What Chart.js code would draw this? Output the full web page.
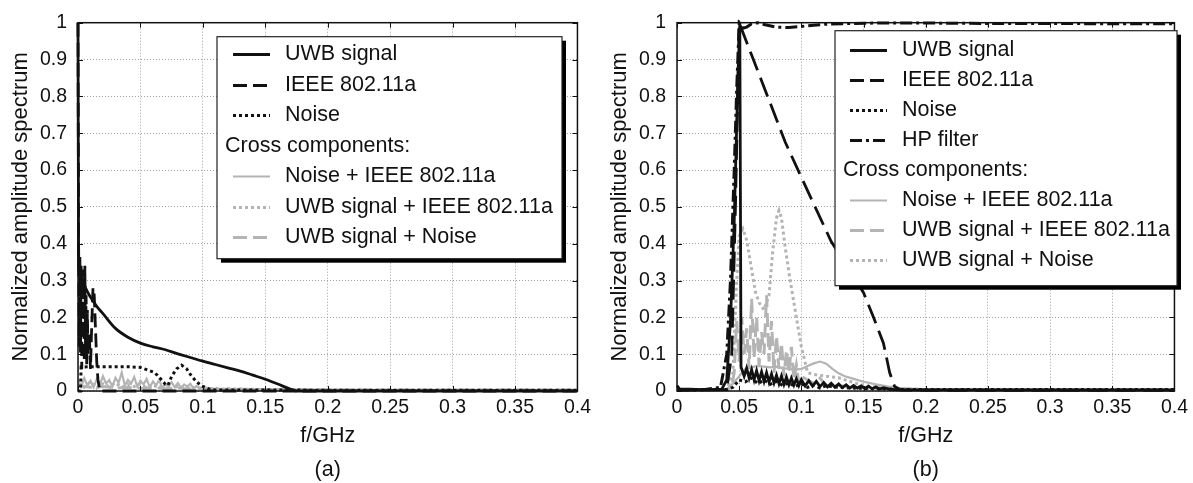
<!DOCTYPE html>
<html>
<head>
<meta charset="utf-8">
<script src="https://cdn.jsdelivr.net/npm/chart.js@4.4.1/dist/chart.umd.min.js"></script>
<style>
  html, body { margin: 0; padding: 0; background: #fff; }
  #wrap { position: relative; width: 1193px; height: 483px; overflow: hidden; }
  canvas { position: absolute; top: 0; }
  #chartA { left: 0; }
  #chartB { left: 599px; }
</style>
</head>
<body>
<div id="wrap">
  <canvas id="chartA" width="596" height="483" style="width:596px;height:483px"></canvas>
  <canvas id="chartB" width="594" height="483" style="width:594px;height:483px"></canvas>
</div>
<script>
// ejes
const xTicks = [0, 0.05, 0.1, 0.15, 0.2, 0.25, 0.3, 0.35, 0.4];
const xTickLabels = ['0', '0.05', '0.1', '0.15', '0.2', '0.25', '0.3', '0.35', '0.4'];
const yTicks = [0, 0.1, 0.2, 0.3, 0.4, 0.5, 0.6, 0.7, 0.8, 0.9, 1];
const yTickLabels = ['0', '0.1', '0.2', '0.3', '0.4', '0.5', '0.6', '0.7', '0.8', '0.9', '1'];

// ---- panel (a) ----
const uwbAx = [0, 0.0005, 0.003, 0.006, 0.01, 0.015, 0.02, 0.03, 0.04, 0.05, 0.06, 0.07, 0.08, 0.09, 0.1, 0.11, 0.12, 0.13, 0.14, 0.15, 0.16, 0.17, 0.175, 0.2, 0.25, 0.3, 0.35, 0.4];
const uwbAy = [1, 0.34, 0.31, 0.28, 0.255, 0.23, 0.21, 0.17, 0.146, 0.13, 0.12, 0.112, 0.101, 0.091, 0.081, 0.072, 0.063, 0.054, 0.043, 0.032, 0.019, 0.005, 0, 0, 0, 0, 0, 0];

const ieeeAx = [0, 0.0005, 0.001, 0.0015, 0.002, 0.0025, 0.003, 0.0035, 0.004, 0.0045, 0.005, 0.0055, 0.006, 0.0065, 0.007, 0.0075, 0.008, 0.009, 0.01, 0.011, 0.012, 0.013, 0.014, 0.015, 0.016, 0.017, 0.018, 0.02, 0.4];
const ieeeAy = [1, 0.4, 0.12, 0.37, 0.1, 0.34, 0.06, 0.33, 0.14, 0.3, 0.08, 0.34, 0.12, 0.26, 0.07, 0.22, 0.1, 0.16, 0.06, 0.18, 0.28, 0.26, 0.17, 0.08, 0.03, 0.01, 0, 0, 0];

const noiseAx = [0, 0.002, 0.0025, 0.01, 0.02, 0.03, 0.04, 0.05, 0.055, 0.06, 0.0635, 0.067, 0.07, 0.072, 0.075, 0.079, 0.083, 0.087, 0.091, 0.095, 0.099, 0.105, 0.11, 0.15, 0.2, 0.25, 0.3, 0.35, 0.4];
const noiseAy = [0, 0, 0.065, 0.066, 0.066, 0.066, 0.066, 0.064, 0.058, 0.052, 0.043, 0.03, 0.018, 0.015, 0.04, 0.06, 0.07, 0.06, 0.04, 0.025, 0.014, 0.005, 0.003, 0.003, 0.002, 0.002, 0.002, 0.002, 0.002];

const niAx = [0, 0.0025, 0.005, 0.0075, 0.01, 0.0125, 0.015, 0.0175, 0.02, 0.0225, 0.025, 0.0275, 0.03, 0.0325, 0.035, 0.0375, 0.04, 0.0425, 0.045, 0.0475, 0.05, 0.0525, 0.055, 0.0575, 0.06, 0.0625, 0.065, 0.0675, 0.07, 0.0725, 0.075, 0.0775, 0.08, 0.0825, 0.085, 0.0875, 0.09, 0.0925, 0.095, 0.0975, 0.1, 0.11, 0.12, 0.14, 0.16, 0.18, 0.2, 0.25, 0.3, 0.35, 0.4];
const niAy = [0.03, 0.012, 0.035, 0.015, 0.028, 0.01, 0.032, 0.018, 0.04, 0.02, 0.03, 0.012, 0.036, 0.022, 0.05, 0.015, 0.03, 0.02, 0.038, 0.012, 0.028, 0.018, 0.033, 0.01, 0.026, 0.015, 0.03, 0.008, 0.02, 0.012, 0.024, 0.01, 0.022, 0.008, 0.018, 0.012, 0.02, 0.006, 0.014, 0.008, 0.01, 0.006, 0.005, 0.004, 0.004, 0.003, 0.003, 0.002, 0.002, 0.002, 0.002];

const uiAx = [0, 0.005, 0.01, 0.015, 0.02, 0.025, 0.03, 0.035, 0.04, 0.045, 0.05, 0.055, 0.06, 0.065, 0.07, 0.075, 0.08, 0.085, 0.09, 0.095, 0.1, 0.105, 0.11, 0.115, 0.12, 0.15, 0.2, 0.25, 0.3, 0.35, 0.4];
const uiAy = [0.02, 0.01, 0.025, 0.008, 0.02, 0.012, 0.022, 0.01, 0.018, 0.012, 0.02, 0.008, 0.016, 0.01, 0.018, 0.006, 0.014, 0.008, 0.012, 0.006, 0.01, 0.005, 0.008, 0.004, 0.006, 0.004, 0.003, 0.002, 0.002, 0.002, 0.002];

const unAx = [0, 0.01, 0.02, 0.03, 0.04, 0.05, 0.06, 0.07, 0.08, 0.09, 0.1, 0.15, 0.2, 0.25, 0.3, 0.35, 0.4];
const unAy = [0.015, 0.01, 0.012, 0.008, 0.01, 0.007, 0.009, 0.006, 0.008, 0.005, 0.005, 0.004, 0.003, 0.003, 0.003, 0.003, 0.003];

// ---- panel (b) ----
const uwbBx = [0, 0.002, 0.01, 0.02, 0.03, 0.036, 0.04, 0.043, 0.046, 0.049, 0.0505, 0.0515,
  0.054, 0.056, 0.058, 0.06, 0.062, 0.064, 0.066, 0.068, 0.07, 0.072, 0.074, 0.076, 0.078, 0.08, 0.082, 0.084, 0.086, 0.088, 0.09, 0.092, 0.094, 0.096, 0.098, 0.1,
  0.103, 0.106, 0.109, 0.112, 0.115, 0.118, 0.121, 0.124, 0.127, 0.13, 0.133, 0.136, 0.139, 0.142, 0.145, 0.148, 0.151, 0.154, 0.157, 0.16, 0.163, 0.166,
  0.17, 0.175, 0.18, 0.2, 0.25, 0.3, 0.35, 0.4];
const uwbBy = [0.015, 0.006, 0.005, 0.004, 0.004, 0.005, 0.03, 0.19, 0.46, 0.85, 1.0, 0.065,
  0.04, 0.062, 0.035, 0.058, 0.03, 0.055, 0.028, 0.052, 0.026, 0.05, 0.024, 0.046, 0.022, 0.043, 0.02, 0.041, 0.018, 0.038, 0.017, 0.035, 0.016, 0.033, 0.015, 0.031,
  0.014, 0.028, 0.013, 0.026, 0.012, 0.023, 0.011, 0.021, 0.01, 0.019, 0.009, 0.017, 0.008, 0.015, 0.008, 0.014, 0.007, 0.013, 0.006, 0.011, 0.005, 0.009,
  0.006, 0.004, 0.003, 0.003, 0.003, 0.003, 0.003, 0.003];

const ieeeBx = [0, 0.02, 0.04, 0.044, 0.047, 0.05, 0.06, 0.07, 0.087, 0.1, 0.124, 0.15, 0.158, 0.166, 0.171, 0.175, 0.18, 0.2, 0.25, 0.3, 0.35, 0.4];
const ieeeBy = [0.003, 0.003, 0.004, 0.1, 0.5, 1.0, 0.912, 0.825, 0.676, 0.58, 0.406, 0.267, 0.2, 0.13, 0.05, 0.012, 0.003, 0.002, 0.002, 0.002, 0.002, 0.002];

const noiseBx = [0, 0.02, 0.04, 0.045, 0.05, 0.055, 0.06, 0.065, 0.07, 0.075, 0.08, 0.085, 0.09, 0.095, 0.1, 0.105, 0.11, 0.115, 0.12, 0.13, 0.14, 0.15, 0.16, 0.17, 0.18, 0.2, 0.25, 0.3, 0.35, 0.4];
const noiseBy = [0.004, 0.004, 0.004, 0.01, 0.03, 0.025, 0.035, 0.02, 0.03, 0.018, 0.026, 0.015, 0.022, 0.012, 0.02, 0.01, 0.016, 0.008, 0.014, 0.01, 0.008, 0.007, 0.006, 0.005, 0.004, 0.004, 0.004, 0.004, 0.004, 0.004];

const hpBx = [0, 0.02, 0.035, 0.04, 0.043, 0.046, 0.048, 0.05, 0.053, 0.056, 0.06, 0.065, 0.07, 0.08, 0.09, 0.1, 0.11, 0.12, 0.14, 0.16, 0.2, 0.25, 0.3, 0.35, 0.4];
const hpBy = [0.003, 0.003, 0.01, 0.1, 0.3, 0.6, 0.82, 1.0, 0.985, 0.988, 0.997, 1.0, 0.995, 0.988, 0.987, 0.99, 0.993, 0.996, 0.998, 0.999, 0.999, 0.998, 0.998, 0.997, 0.997];

const niBx = [0, 0.03, 0.04, 0.045, 0.05, 0.055, 0.06, 0.065, 0.07, 0.075, 0.08, 0.085, 0.09, 0.095, 0.1, 0.105, 0.11, 0.115, 0.12, 0.125, 0.13, 0.135, 0.14, 0.15, 0.16, 0.17, 0.18, 0.2, 0.25, 0.3, 0.35, 0.4];
const niBy = [0.002, 0.002, 0.005, 0.02, 0.04, 0.06, 0.065, 0.068, 0.066, 0.064, 0.066, 0.062, 0.06, 0.058, 0.06, 0.068, 0.075, 0.08, 0.074, 0.06, 0.048, 0.04, 0.035, 0.025, 0.018, 0.012, 0.008, 0.004, 0.002, 0.002, 0.002, 0.002];

const uiBx = [0, 0.04, 0.044,
  0.046, 0.048, 0.05, 0.052, 0.054, 0.056, 0.058, 0.06, 0.062, 0.064, 0.066, 0.068, 0.07, 0.072, 0.074, 0.076, 0.078, 0.08, 0.082, 0.084, 0.086, 0.088, 0.09, 0.092, 0.094, 0.096, 0.098, 0.1,
  0.105, 0.11, 0.115, 0.12, 0.13, 0.14, 0.15, 0.2, 0.3, 0.4];
const uiBy = [0.002, 0.003, 0.01,
  0.05, 0.19, 0.08, 0.2, 0.1, 0.17, 0.06, 0.25, 0.09, 0.2, 0.07, 0.16, 0.1, 0.26, 0.08, 0.19, 0.05, 0.15, 0.06, 0.13, 0.04, 0.11, 0.05, 0.12, 0.03, 0.07, 0.02, 0.04,
  0.03, 0.02, 0.035, 0.015, 0.015, 0.01, 0.008, 0.004, 0.003, 0.003];

const unBx = [0, 0.04, 0.045, 0.048, 0.05, 0.053, 0.056, 0.06, 0.063, 0.066, 0.07, 0.074, 0.077, 0.08, 0.082, 0.084, 0.087, 0.091, 0.095, 0.1, 0.105, 0.11, 0.12, 0.13, 0.14, 0.15, 0.16, 0.18, 0.2, 0.25, 0.3, 0.35, 0.4];
const unBy = [0.002, 0.003, 0.05, 0.3, 0.42, 0.44, 0.41, 0.33, 0.27, 0.24, 0.22, 0.26, 0.38, 0.47, 0.49, 0.47, 0.39, 0.3, 0.22, 0.12, 0.05, 0.045, 0.04, 0.036, 0.025, 0.015, 0.01, 0.006, 0.004, 0.003, 0.003, 0.003, 0.003];

const FONT = "'Liberation Sans', Arial, sans-serif";
const TICK_FONT = "'Liberation Sans Narrow', 'Liberation Sans', Arial, sans-serif";
const GRAY = '#b4b4b4';

function pts(xs, ys) {
  return xs.map((x, i) => ({ x: x, y: ys[i] }));
}

function serie(label, xs, ys, color, width, dash, smooth) {
  return {
    label: label,
    data: pts(xs, ys),
    borderColor: color,
    borderWidth: width,
    borderDash: dash,
    pointRadius: 0,
    fill: false,
    clip: 3,
    cubicInterpolationMode: smooth ? 'monotone' : 'default'
  };
}

// marco negro y marcas hacia dentro
const framePlugin = {
  id: 'frame',
  afterDatasetsDraw(chart) {
    const ctx = chart.ctx, a = chart.chartArea;
    const sx = chart.scales.x, sy = chart.scales.y;
    ctx.save();
    ctx.strokeStyle = '#111';
    ctx.lineWidth = 1;
    ctx.beginPath();
    xTicks.forEach(v => {
      const px = Math.round(sx.getPixelForValue(v)) + 0.5;
      ctx.moveTo(px, a.bottom); ctx.lineTo(px, a.bottom - 5);
      ctx.moveTo(px, a.top); ctx.lineTo(px, a.top + 5);
    });
    yTicks.forEach(v => {
      const py = Math.round(sy.getPixelForValue(v)) + 0.5;
      ctx.moveTo(a.left, py); ctx.lineTo(a.left + 5, py);
      ctx.moveTo(a.right, py); ctx.lineTo(a.right - 5, py);
    });
    ctx.stroke();
    ctx.lineWidth = 1.5;
    ctx.strokeRect(a.left, a.top, a.right - a.left, a.bottom - a.top);
    ctx.restore();
  }
};

// leyenda con recuadro y sombra
const boxLegend = {
  id: 'boxLegend',
  afterDraw(chart, args, o) {
    const ctx = chart.ctx, a = chart.chartArea;
    const x = a.left + o.dx, y = a.top + o.dy;
    ctx.save();
    ctx.fillStyle = '#000';
    ctx.fillRect(x + 4, y + 4, o.w, o.h);
    ctx.fillStyle = '#fff';
    ctx.fillRect(x, y, o.w, o.h);
    ctx.strokeStyle = '#222';
    ctx.lineWidth = 1.2;
    ctx.strokeRect(x, y, o.w, o.h);
    ctx.font = '21.5px ' + FONT;
    ctx.textBaseline = 'middle';
    let row = 0;
    chart.data.datasets.forEach((ds, i) => {
      if (i === o.headerAt) {
        ctx.fillStyle = '#111';
        ctx.fillText(o.header, x + o.headerX, y + o.first + row * o.rowH);
        row++;
      }
      const cy = Math.round(y + o.first + row * o.rowH) + 0.5;
      ctx.beginPath();
      ctx.setLineDash(ds.legendDash || ds.borderDash || []);
      ctx.strokeStyle = ds.borderColor;
      ctx.lineWidth = ds.borderWidth;
      ctx.moveTo(x + o.lineX0, cy);
      ctx.lineTo(x + o.lineX1, cy);
      ctx.stroke();
      ctx.setLineDash([]);
      ctx.fillStyle = '#111';
      ctx.fillText(ds.label, x + o.textX, cy);
      row++;
    });
    ctx.restore();
  }
};

function buildOptions(panelLabel, rightPad, legendCfg) {
  return {
    responsive: false,
    animation: false,
    devicePixelRatio: 1,
    layout: { padding: { left: 0, top: 19, right: rightPad, bottom: 0 } },
    plugins: {
      legend: { display: false },
      tooltip: { enabled: false },
      boxLegend: legendCfg
    },
    scales: {
      x: {
        type: 'linear',
        min: 0,
        max: 0.4,
        afterBuildTicks: s => { s.ticks = xTicks.map(v => ({ value: v })); },
        afterFit: s => { s.height = 92; },
        ticks: {
          autoSkip: false,
          maxRotation: 0,
          padding: 5,
          color: '#111',
          font: { family: TICK_FONT, size: 19.5 },
          callback: (v, i) => xTickLabels[i]
        },
        grid: { color: '#a0a0a0', lineWidth: 1, drawTicks: false },
        border: { display: false, dash: [1, 2] },
        title: {
          display: true,
          text: ['f/GHz', panelLabel],
          color: '#111',
          font: { family: FONT, size: 21.5, lineHeight: '34px' },
          padding: { top: 0, bottom: -4 }
        }
      },
      y: {
        min: 0,
        max: 1,
        afterBuildTicks: s => { s.ticks = yTicks.map(v => ({ value: v })); },
        afterFit: s => { s.width = 78; },
        ticks: {
          padding: 11,
          color: '#111',
          font: { family: TICK_FONT, size: 19.5 },
          callback: (v, i) => yTickLabels[i]
        },
        grid: { color: '#a0a0a0', lineWidth: 1, drawTicks: false },
        border: { display: false, dash: [1, 2] },
        title: {
          display: true,
          text: 'Normalized amplitude spectrum',
          color: '#111',
          font: { family: FONT, size: 22 },
          padding: { top: 8, bottom: 0 }
        }
      }
    }
  };
}

const datasetsA = [
  serie('UWB signal', uwbAx, uwbAy, '#111', 2.8, [], true),
  serie('IEEE 802.11a', ieeeAx, ieeeAy, '#111', 2.8, [14, 6], false),
  serie('Noise', noiseAx, noiseAy, '#111', 3, [3, 3], false),
  serie('Noise + IEEE 802.11a', niAx, niAy, GRAY, 2.2, [], false),
  serie('UWB signal + IEEE 802.11a', uiAx, uiAy, GRAY, 3, [3, 3], false),
  serie('UWB signal + Noise', unAx, unAy, GRAY, 3, [14, 6], false)
];

const datasetsB = [
  serie('UWB signal', uwbBx, uwbBy, '#111', 2.8, [], false),
  serie('IEEE 802.11a', ieeeBx, ieeeBy, '#111', 2.8, [20, 8], false),
  serie('Noise', noiseBx, noiseBy, '#111', 3, [3, 3], false),
  serie('HP filter', hpBx, hpBy, '#111', 3, [12, 4, 3, 4], false),
  serie('Noise + IEEE 802.11a', niBx, niBy, GRAY, 2.2, [], false),
  serie('UWB signal + IEEE 802.11a', uiBx, uiBy, GRAY, 3, [14, 6], false),
  serie('UWB signal + Noise', unBx, unBy, GRAY, 3, [3, 3], false)
];
// muestra de leyenda con el mismo trazo corto que en (a)
datasetsB[1].legendDash = [14, 6];

new Chart(document.getElementById('chartA').getContext('2d'), {
  type: 'line',
  data: { datasets: datasetsA },
  options: buildOptions('(a)', 14, {
    dx: 139, dy: 14, w: 345, h: 222, first: 17.5, rowH: 30.5,
    lineX0: 16, lineX1: 53, textX: 68, headerX: 8, headerAt: 3, header: 'Cross components:'
  }),
  plugins: [framePlugin, boxLegend]
});

new Chart(document.getElementById('chartB').getContext('2d'), {
  type: 'line',
  data: { datasets: datasetsB },
  options: buildOptions('(b)', 11, {
    dx: 158, dy: 8, w: 342, h: 255, first: 19.5, rowH: 30,
    lineX0: 15, lineX1: 52, textX: 67, headerX: 8, headerAt: 4, header: 'Cross components:'
  }),
  plugins: [framePlugin, boxLegend]
});
</script>
</body>
</html>
